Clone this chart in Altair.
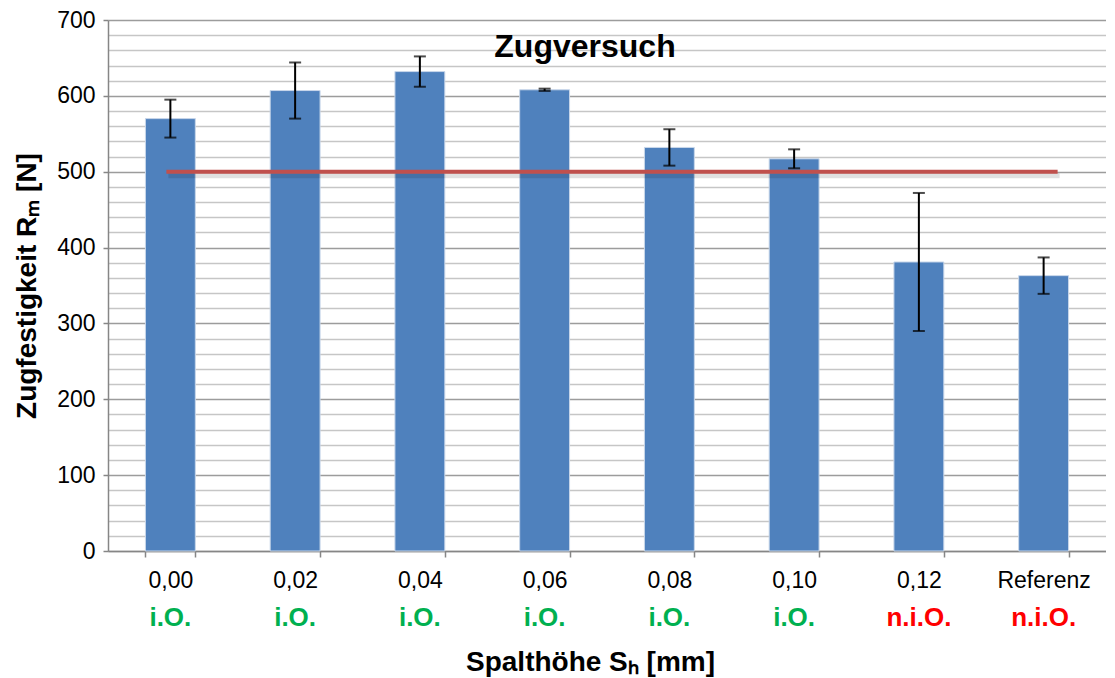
import altair as alt
import pandas as pd

categories = ["0,00", "0,02", "0,04", "0,06", "0,08", "0,10", "0,12", "Referenz"]
strength = [570, 607, 632, 608, 532, 517, 381, 363]
std_dev = [25, 37, 20, 1.5, 24, 12.5, 91, 24]
status = ["i.O.", "i.O.", "i.O.", "i.O.", "i.O.", "i.O.", "n.i.O.", "n.i.O."]
limit_value = 500
y_ticks = list(range(0, 701, 20))

df = pd.DataFrame({"cat": categories, "val": strength, "err": std_dev, "status": status})
df["lo"] = df["val"] - df["err"]
df["hi"] = df["val"] + df["err"]

limit_df = pd.DataFrame({"x1": [categories[0]], "x2": [categories[-1]], "val": [limit_value]})
title_df = pd.DataFrame({"t": ["Zugversuch"]})

FONT = "Liberation Sans"
W, H = 998, 531

xscale = alt.Scale(domain=categories, paddingInner=0.6, paddingOuter=0.3)
yscale = alt.Scale(domain=[0, 700], nice=False)
major = "datum.value % 100 === 0"

x_axis = alt.Axis(
    title="Spalthöhe Sₕ [mm]", labelAngle=0, tickBand="extent", tickSize=6,
    labelPadding=12, titlePadding=56, titleX=482,
    labelFontSize=23, labelFont=FONT, labelColor="#000000",
    titleFontSize=28, titleFont=FONT, titleFontWeight="bold", titleColor="#000000",
    domainColor="#868686", tickColor="#868686", domainWidth=1.5, tickWidth=1.5,
)
y_axis = alt.Axis(
    title="Zugfestigkeit Rₘ [N]", values=y_ticks, grid=True, labelOverlap=False,
    gridColor={"condition": {"test": major, "value": "#9c9c9c"}, "value": "#c6c6c6"},
    gridWidth=1.5,
    tickOpacity={"condition": {"test": major, "value": 1}, "value": 0},
    labelExpr="datum.value % 100 === 0 ? datum.label : ''",
    tickSize=5, labelPadding=8, titlePadding=15,
    labelFontSize=23, labelFont=FONT, labelColor="#000000",
    titleFontSize=28, titleFont=FONT, titleFontWeight="bold", titleColor="#000000",
    domainColor="#868686", tickColor="#868686", domainWidth=1.5, tickWidth=1.5,
)


def X(field):
    return alt.X(field, scale=xscale, sort=categories, axis=x_axis)


def Y(field):
    return alt.Y(field, scale=yscale, axis=y_axis)


bars = alt.Chart(df).mark_bar(color="#4F81BD", stroke="#c9d7ea", strokeWidth=1).encode(
    x=X("cat:N"), y=Y("val:Q")
)

err_rule = alt.Chart(df).mark_rule(color="#000000", strokeWidth=2).encode(
    x=X("cat:N"), y=Y("lo:Q"), y2="hi:Q"
)
cap_lo = alt.Chart(df).mark_tick(color="#000000", thickness=2, size=12, orient="horizontal").encode(
    x=X("cat:N"), y=Y("lo:Q")
)
cap_hi = alt.Chart(df).mark_tick(color="#000000", thickness=2, size=12, orient="horizontal").encode(
    x=X("cat:N"), y=Y("hi:Q")
)

shadow = alt.Chart(limit_df).mark_rule(
    color="#000000", strokeWidth=5, opacity=0.12, xOffset=-2, x2Offset=16, yOffset=4
).encode(x=X("x1:N"), x2="x2:N", y=Y("val:Q"))
limit = alt.Chart(limit_df).mark_rule(color="#C0504D", strokeWidth=4, xOffset=-4, x2Offset=14).encode(
    x=X("x1:N"), x2="x2:N", y=Y("val:Q")
)

status_text = alt.Chart(df).mark_text(
    font=FONT, fontSize=26, fontWeight="bold", baseline="middle", align="center"
).encode(
    x=X("cat:N"),
    y=alt.value(H + 67),
    text="status:N",
    color=alt.Color("status:N", scale=alt.Scale(domain=["i.O.", "n.i.O."], range=["#00B050", "#FF0000"]), legend=None),
)

title = alt.Chart(title_df).mark_text(
    font=FONT, fontSize=32, fontWeight="bold", baseline="middle", align="center", color="#000000"
).encode(x=alt.value(477), y=alt.value(27), text="t:N")

chart = alt.layer(bars, shadow, limit, err_rule, cap_lo, cap_hi, status_text, title).properties(
    width=W, height=H,
    autosize=alt.AutoSizeParams(type="none"),
    padding={"left": 100, "top": 12, "right": 0, "bottom": 126},
    background="#ffffff",
).configure_view(stroke=None)

chart.save("out.html", embed_options={"renderer": "svg", "actions": False})
